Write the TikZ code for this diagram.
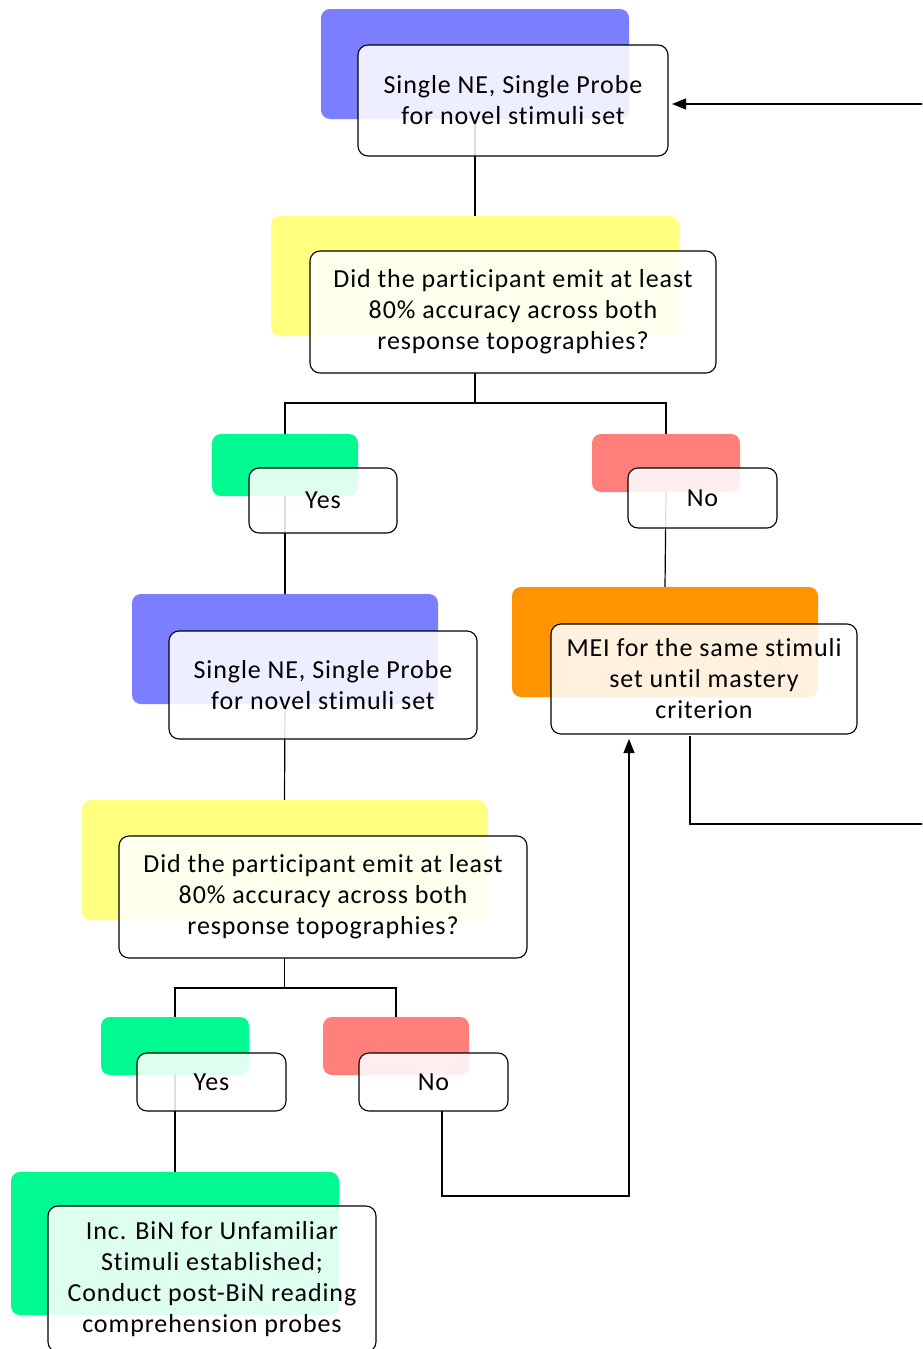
\documentclass[tikz,border=0pt]{standalone}
\usepackage{fontspec}
\setmainfont{Carlito}[LetterSpace=3.5,Ligatures={NoCommon,NoRare},RawFeature={-liga;-dlig;-clig}]
\usetikzlibrary{arrows.meta,calc}
\definecolor{cblue}{RGB}{123,127,255}
\definecolor{cyellow}{RGB}{255,255,128}
\definecolor{cgreen}{RGB}{0,250,146}
\definecolor{cred}{RGB}{255,128,122}
\definecolor{corange}{RGB}{255,148,0}
\begin{document}
\begin{tikzpicture}[x=1pt,y=-1pt,
  cbox/.style={draw=none,rounded corners=9pt,inner sep=0pt,outer sep=0pt},
  wbox/.style={draw=black,line width=1.1pt,rounded corners=10pt,fill=white,fill opacity=0.87,text opacity=1,inner sep=0pt,outer sep=0pt,align=center,font=\fontsize{26}{31}\selectfont},
  conn/.style={draw=black,line width=1.2pt},
  tip/.style={-{Triangle[length=14pt,width=11pt]}}]
\useasboundingbox (0,0) rectangle (922,1349);
\clip (0,0) rectangle (922,1349);
\fill[white] (0,0) rectangle (922,1349);
\path
 coordinate (pc1) at (475,64)
 coordinate (pc2) at (475,276)
 coordinate (pc3) at (285,465)
 coordinate (pc4) at (666,463)
 coordinate (pc5) at (285,649)
 coordinate (pc6) at (665,642)
 coordinate (pc7) at (284.5,860)
 coordinate (pc8) at (175,1046)
 coordinate (pc9) at (396,1046)
 coordinate (pc10) at (175,1243.5);
% geometry of the coloured backing shapes
\node[cbox,minimum width=308pt,minimum height=110pt] (c1) at (pc1) {};
\node[cbox,minimum width=408pt,minimum height=120pt] (c2) at (pc2) {};
\node[cbox,minimum width=146pt,minimum height=62pt] (c3) at (pc3) {};
\node[cbox,minimum width=148pt,minimum height=58pt] (c4) at (pc4) {};
\node[cbox,minimum width=306pt,minimum height=110pt] (c5) at (pc5) {};
\node[cbox,minimum width=306pt,minimum height=110pt] (c6) at (pc6) {};
\node[cbox,minimum width=405pt,minimum height=120pt] (c7) at (pc7) {};
\node[cbox,minimum width=148pt,minimum height=58pt] (c8) at (pc8) {};
\node[cbox,minimum width=146pt,minimum height=58pt] (c9) at (pc9) {};
\node[cbox,minimum width=328pt,minimum height=143pt] (c10) at (pc10) {};
% geometry of white boxes used by connectors
\path
 node[minimum width=310pt,minimum height=111pt,inner sep=0pt,outer sep=0pt] (w1) at (513,100.5) {}
 node[minimum width=406pt,minimum height=122pt,inner sep=0pt,outer sep=0pt] (w2) at (513,312) {}
 node[minimum width=308pt,minimum height=110pt,inner sep=0pt,outer sep=0pt] (w6) at (704,679) {}
 node[minimum width=408pt,minimum height=122pt,inner sep=0pt,outer sep=0pt] (w7) at (323,897) {}
 node[minimum width=149pt,minimum height=58pt,inner sep=0pt,outer sep=0pt] (w9) at (433.5,1082) {};
% connectors (behind boxes)
\draw[conn] (c1.south) -- (c2.north);
\draw[conn] (c2.center |- w2.south) -- ++(0,30) coordinate (t1);
\draw[conn] (t1) -| (c3.north);
\draw[conn] (t1) -| (c4.north);
\draw[conn] (c3.south) -- (c5.north);
\draw[conn] (c4.south) -- (c6.north);
\draw[conn] (c5.south) -- (c7.north);
\draw[conn] (c7.center |- w7.south) -- ++(0,30) coordinate (t2);
\draw[conn] (t2) -| (c8.north);
\draw[conn] (t2) -| (c9.north);
\draw[conn] (c8.south) -- (c10.north);
\coordinate (m1) at ($(w6.south)+(-14,2)$);
\coordinate (a1) at ($(w1.east)+(4,3.5)$);
\draw[conn,tip] (m1) |- (940,824) |- (a1);
\coordinate (n1) at ($(w9.south)+(8.5,0)$);
\coordinate (n2) at ($(w6.south)+(-75,5)$);
\draw[conn,tip] (n1) |- (629,1196) -- (n2);
% coloured backing fills
\fill[cblue,rounded corners=9pt] (c1.south west) rectangle (c1.north east);
\fill[cyellow,rounded corners=9pt] (c2.south west) rectangle (c2.north east);
\fill[cgreen,rounded corners=9pt] (c3.south west) rectangle (c3.north east);
\fill[cred,rounded corners=9pt] (c4.south west) rectangle (c4.north east);
\fill[cblue,rounded corners=9pt] (c5.south west) rectangle (c5.north east);
\fill[corange,rounded corners=9pt] (c6.south west) rectangle (c6.north east);
\fill[cyellow,rounded corners=9pt] (c7.south west) rectangle (c7.north east);
\fill[cgreen,rounded corners=9pt] (c8.south west) rectangle (c8.north east);
\fill[cred,rounded corners=9pt] (c9.south west) rectangle (c9.north east);
\fill[cgreen,rounded corners=9pt] (c10.south west) rectangle (c10.north east);
% white text boxes
\node[wbox,minimum width=310pt,minimum height=111pt] (b1) at (w1) {Single NE, Single Probe\\for novel stimuli set};
\node[wbox,minimum width=406pt,minimum height=122pt] (b2) at (w2) {Did the participant emit at least\\80\% accuracy across both\\response topographies?};
\node[wbox,minimum width=148pt,minimum height=65pt] (b3) at (323,500.5) {Yes};
\node[wbox,minimum width=149pt,minimum height=60pt] (b4) at (702.5,498) {No};
\node[wbox,minimum width=308pt,minimum height=108pt] (b5) at (323,685) {Single NE, Single Probe\\for novel stimuli set};
\node[wbox,minimum width=306pt,minimum height=110pt] (b6) at (w6) {MEI for the same stimuli\\set until mastery\\criterion};
\node[wbox,minimum width=408pt,minimum height=122pt] (b7) at (w7) {Did the participant emit at least\\80\% accuracy across both\\response topographies?};
\node[wbox,minimum width=149pt,minimum height=58pt] (b8) at (211.5,1082) {Yes};
\node[wbox,minimum width=149pt,minimum height=58pt] (b9) at (w9) {No};
\node[wbox,minimum width=328pt,minimum height=146pt] (b10) at (212,1279) {Inc. BiN for Unfamiliar\\Stimuli established;\\Conduct post-BiN reading\\comprehension probes};
\end{tikzpicture}
\end{document}
